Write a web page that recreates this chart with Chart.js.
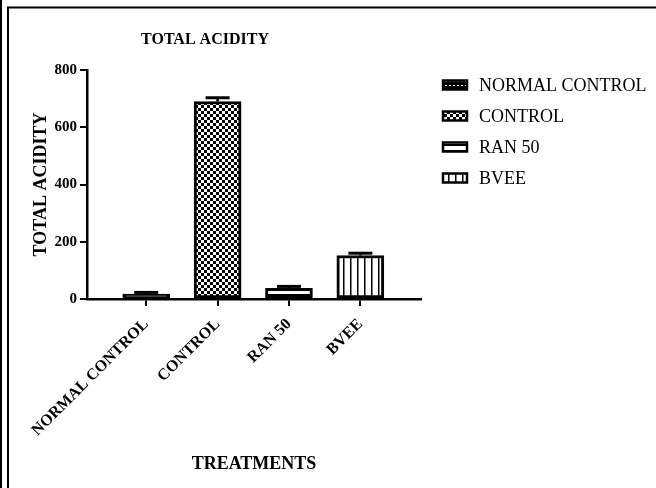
<!DOCTYPE html>
<html>
<head>
<meta charset="utf-8">
<script src="https://cdn.jsdelivr.net/npm/chart.js@4.4.1/dist/chart.umd.min.js"></script>
<style>
body{margin:0;background:#fff;}
#wrap{width:656px;height:488px;position:relative;}
</style>
</head>
<body>
<div id="wrap"><canvas id="graficoAcidez"></canvas></div>
<script>
const tratamientos = ["NORMAL CONTROL", "CONTROL", "RAN 50", "BVEE"];
const acidezMedia = [17, 690, 37, 152];
const acidezError = [6, 13, 7, 8];
const ticksY = [0, 200, 400, 600, 800];

const tituloGrafico = "TOTAL ACIDITY";
const tituloEjeY = "TOTAL ACIDITY";
const tituloEjeX = "TREATMENTS";

const fuenteSerif = "'Liberation Serif', 'Times New Roman', serif";

function crearPatron(tipo){
const c=document.createElement("canvas");
const g=c.getContext("2d");
if(tipo==="puntos"){
c.width=4;c.height=4;
g.fillStyle="#000";g.fillRect(0,0,4,4);
g.fillStyle="#fff";g.fillRect(1,1,2,1);
}else if(tipo==="damero"){
c.width=6;c.height=6;
g.fillStyle="#fff";g.fillRect(0,0,6,6);
g.fillStyle="#000";g.fillRect(0,0,3,3);g.fillRect(3,3,3,3);
}else if(tipo==="horizontal"){
c.width=4;c.height=6;
g.fillStyle="#fff";g.fillRect(0,0,4,6);
g.fillStyle="#000";g.fillRect(0,0,4,2);
}else{
c.width=7;c.height=4;
g.fillStyle="#fff";g.fillRect(0,0,7,4);
g.fillStyle="#000";g.fillRect(0,0,1.5,4);
}
return g.createPattern(c,"repeat");
}

const patrones=[crearPatron("puntos"),crearPatron("damero"),crearPatron("horizontal"),crearPatron("vertical")];

// marco, titulo, barras de error y leyenda
const pluginDibujo={
id:"dibujo",
afterDatasetsDraw(chart){
const ctx=chart.ctx;
const x=chart.scales.x;
const y=chart.scales.y;
ctx.save();
ctx.strokeStyle="#000";
ctx.lineCap="butt";
acidezMedia.forEach((v,i)=>{
const px=x.getPixelForValue(i);
const yBarra=y.getPixelForValue(v);
const yTope=y.getPixelForValue(v+acidezError[i]);
ctx.lineWidth=2.5;
ctx.beginPath();ctx.moveTo(px,yBarra);ctx.lineTo(px,yTope);ctx.stroke();
ctx.lineWidth=3;
ctx.beginPath();ctx.moveTo(px-12,yTope);ctx.lineTo(px+12,yTope);ctx.stroke();
});
ctx.restore();
},
afterDraw(chart){
const ctx=chart.ctx;
ctx.save();
ctx.strokeStyle="#000";
ctx.lineWidth=2;
ctx.beginPath();ctx.moveTo(1,0);ctx.lineTo(1,488);ctx.stroke();
ctx.beginPath();ctx.moveTo(8,7.5);ctx.lineTo(8,488);ctx.stroke();
ctx.beginPath();ctx.moveTo(7,7.5);ctx.lineTo(656,7.5);ctx.stroke();

ctx.fillStyle="#000";
ctx.font="bold 16px "+fuenteSerif;
ctx.textAlign="center";
ctx.textBaseline="middle";
ctx.fillText(tituloGrafico,205,40);

ctx.font="18px "+fuenteSerif;
ctx.textAlign="left";
tratamientos.forEach((t,i)=>{
const yc=85+i*31;
ctx.fillStyle=patrones[i];
ctx.fillRect(443,yc-4.5,24,9);
ctx.lineWidth=2.5;
ctx.strokeRect(443,yc-4.5,24,9);
ctx.fillStyle="#000";
ctx.fillText(t,479,yc+1);
});
ctx.restore();
}
};

function crearGrafico(){
const ctx=document.getElementById("graficoAcidez");
new Chart(ctx,{
type:"bar",
data:{
datasets:[{
data:acidezMedia.map((v,i)=>({x:i,y:v})),
backgroundColor:patrones,
borderColor:"#000",
borderWidth:3,
borderSkipped:false,
barThickness:47
}]
},
options:{
responsive:true,
maintainAspectRatio:false,
animation:false,
layout:{padding:{left:10,right:235,top:70,bottom:0}},
scales:{
x:{
type:"linear",
min:-0.83,
max:3.85,
offset:false,
afterBuildTicks:(s)=>{s.ticks=tratamientos.map((t,i)=>({value:i}));},
afterFit:(s)=>{s.height=189;},
border:{color:"#000",width:2.5},
grid:{drawOnChartArea:false,offset:false,color:"#000",lineWidth:2,tickLength:7},
ticks:{
autoSkip:false,
minRotation:45,
maxRotation:45,
padding:9,
color:"#000",
font:{family:fuenteSerif,weight:"bold",size:16},
callback:(v)=>tratamientos[v] ?? ""
},
title:{
display:true,
text:tituloEjeX,
color:"#000",
font:{family:fuenteSerif,weight:"bold",size:18},
padding:{top:0,bottom:13}
}
},
y:{
min:0,
max:800,
afterBuildTicks:(s)=>{s.ticks=ticksY.map(v=>({value:v}));},
afterFit:(s)=>{s.width=77;},
border:{color:"#000",width:2.5},
grid:{drawOnChartArea:false,color:"#000",lineWidth:2,tickLength:7},
ticks:{
padding:3,
color:"#000",
font:{family:fuenteSerif,weight:"bold",size:15}
},
title:{
display:true,
text:tituloEjeY,
color:"#000",
font:{family:fuenteSerif,weight:"bold",size:18},
padding:{top:21,bottom:0}
}
}
},
plugins:{
legend:{display:false},
tooltip:{enabled:false}
}
},
plugins:[pluginDibujo]
});
}

crearGrafico();
</script>
</body>
</html>
